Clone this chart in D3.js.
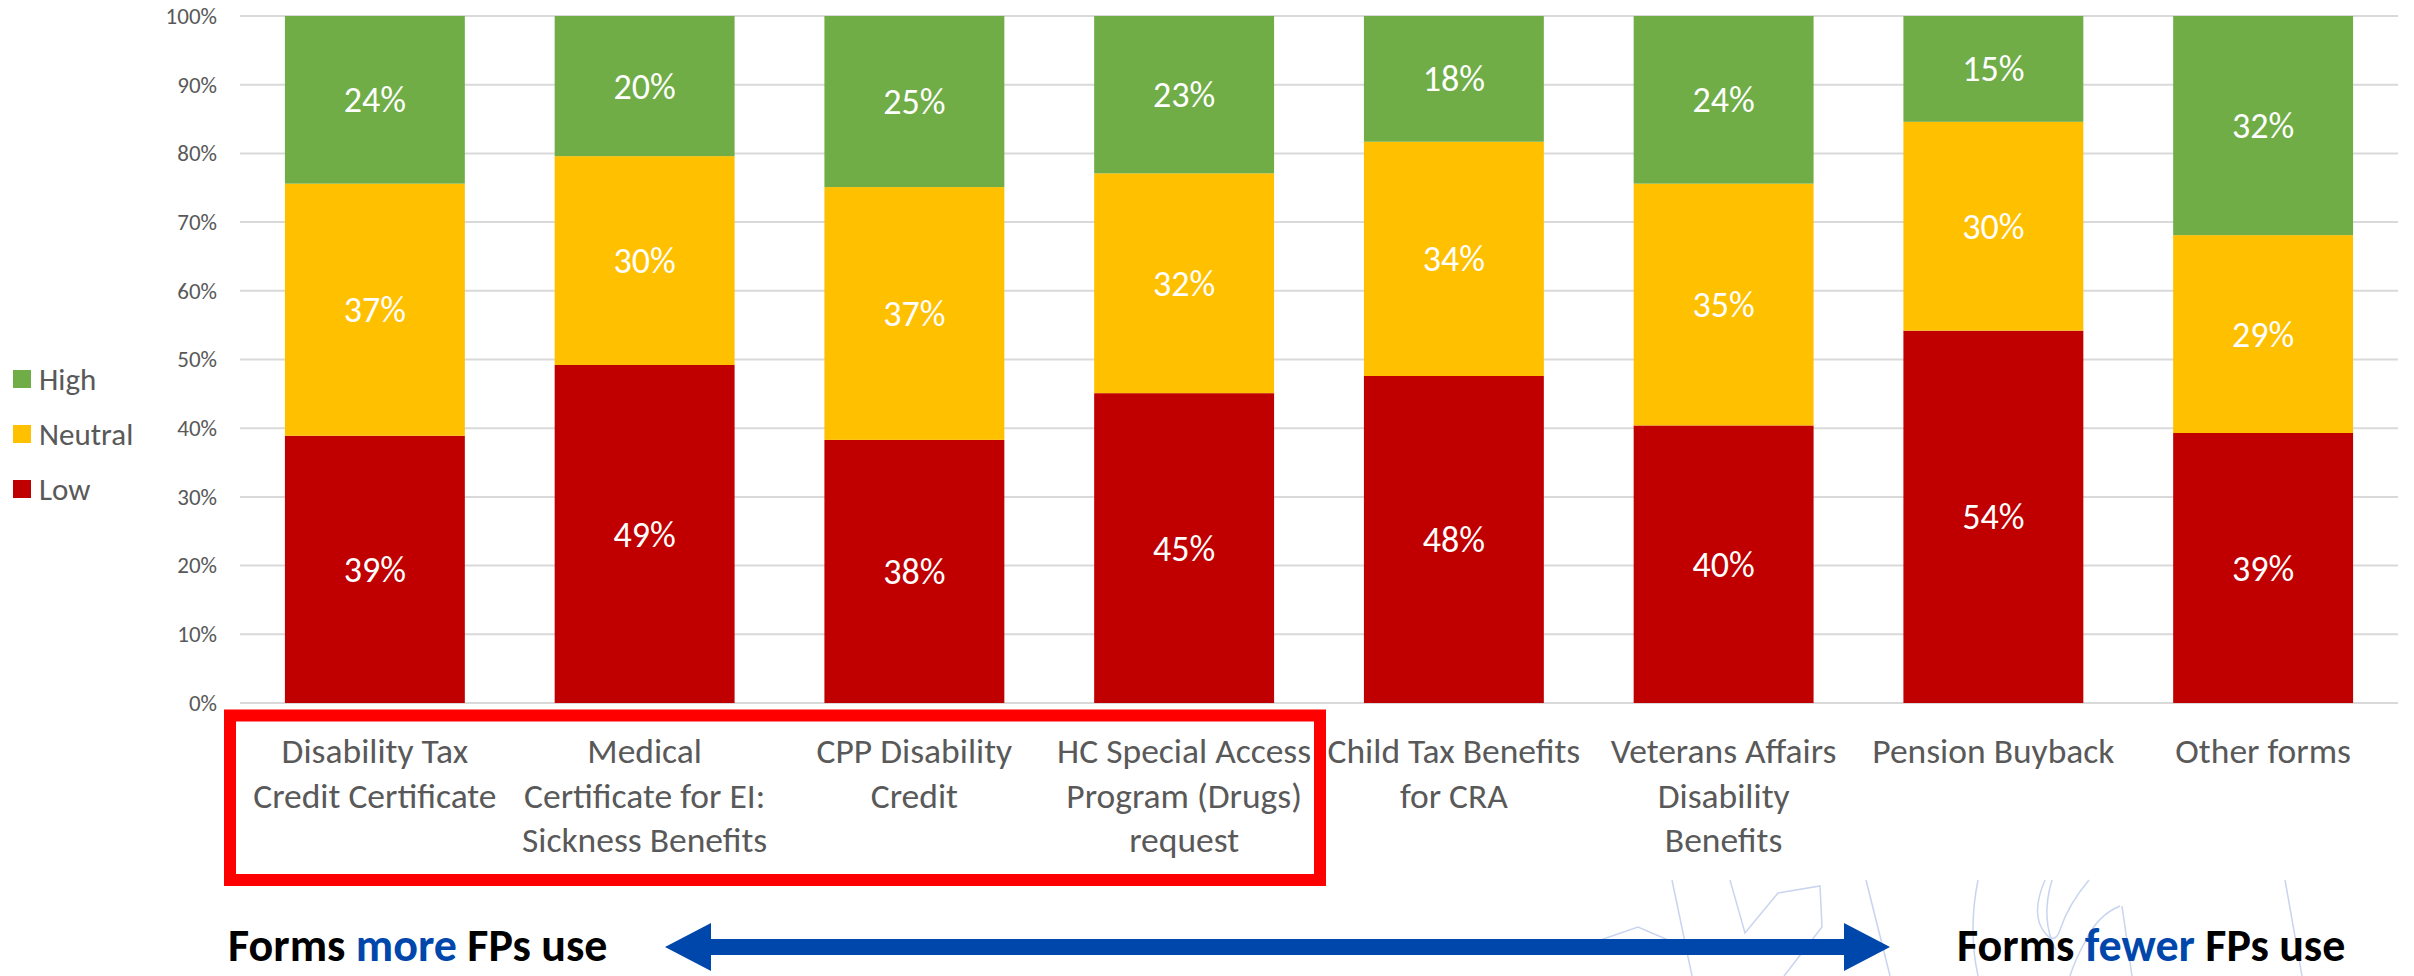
<!DOCTYPE html>
<html>
<head>
<meta charset="utf-8">
<script src="https://cdn.jsdelivr.net/npm/d3@7"></script>
<style>
  html, body { margin: 0; padding: 0; background: #ffffff; }
  svg { display: block; }
</style>
</head>
<body>
<svg id="chart" width="2414" height="976"></svg>
<script>
// Form categories (line breaks follow the axis label wrapping)
const categories = [
  "Disability Tax\nCredit Certificate",
  "Medical\nCertificate for EI:\nSickness Benefits",
  "CPP Disability\nCredit",
  "HC Special Access\nProgram (Drugs)\nrequest",
  "Child Tax Benefits\nfor CRA",
  "Veterans Affairs\nDisability\nBenefits",
  "Pension Buyback",
  "Other forms"
];

// Share of respondents per rating (percent)
const low     = [38.9, 49.2, 38.3, 45.1, 47.6, 40.4, 54.2, 39.3];
const neutral = [36.7, 30.4, 36.8, 32.0, 34.1, 35.2, 30.4, 28.8];
const high    = [24.4, 20.4, 24.9, 22.9, 18.3, 24.4, 15.4, 31.9];

const seriesNames = ["Low", "Neutral", "High"];
const legendOrder = ["High", "Neutral", "Low"];
const yTicks = [0, 10, 20, 30, 40, 50, 60, 70, 80, 90, 100];

const colors = { Low: "#C00000", Neutral: "#FFC000", High: "#70AD47" };
const FONT = "Carlito, Calibri, Lato, 'Open Sans', sans-serif";
const GREY = "#595959";
const BLUE = "#0047AB";

const rows = categories.map((c, i) => ({ category: c, Low: low[i], Neutral: neutral[i], High: high[i] }));

const svg = d3.select("#chart");

const x = d3.scaleBand()
  .domain(categories)
  .range([240, 2398])
  .paddingInner(0.333)
  .paddingOuter(0.1665);

const y = d3.scaleLinear().domain([0, 100]).range([703, 16]);

// Horizontal gridlines
svg.append("g")
  .selectAll("line")
  .data(yTicks)
  .join("line")
  .attr("x1", 240).attr("x2", 2398)
  .attr("y1", d => y(d)).attr("y2", d => y(d))
  .attr("stroke", "#D9D9D9").attr("stroke-width", 2);

// Y axis labels
const yAxis = svg.append("g")
  .attr("transform", "translate(217,0)")
  .call(d3.axisLeft(y).tickValues(yTicks).tickFormat(d => d + "%").tickSize(0).tickPadding(0));
yAxis.select(".domain").remove();
yAxis.selectAll("text")
  .attr("font-family", FONT).attr("font-size", 23).attr("fill", GREY);

// Stacked bars
const stacked = d3.stack().keys(seriesNames)(rows);

const layers = svg.append("g").selectAll("g")
  .data(stacked)
  .join("g")
  .attr("fill", s => colors[s.key]);

layers.selectAll("rect")
  .data(s => s)
  .join("rect")
  .attr("x", d => x(d.data.category))
  .attr("width", x.bandwidth())
  .attr("y", d => y(d[1]))
  .attr("height", d => y(d[0]) - y(d[1]));

// Value labels centred in each segment
layers.selectAll("text")
  .data(s => s)
  .join("text")
  .attr("x", d => x(d.data.category) + x.bandwidth() / 2)
  .attr("y", d => y((d[0] + d[1]) / 2))
  .attr("dy", "0.35em")
  .attr("text-anchor", "middle")
  .attr("font-family", FONT).attr("font-size", 36)
  .attr("fill", "#ffffff")
  .text(d => Math.round(d[1] - d[0]) + "%");

// Category labels
const catG = svg.append("g");
categories.forEach(c => {
  const t = catG.append("text")
    .attr("x", x(c) + x.bandwidth() / 2)
    .attr("y", 763)
    .attr("text-anchor", "middle")
    .attr("font-family", FONT).attr("font-size", 35.5)
    .attr("fill", GREY);
  c.split("\n").forEach((line, k) => {
    t.append("tspan")
      .attr("x", x(c) + x.bandwidth() / 2)
      .attr("dy", k === 0 ? 0 : 44.7)
      .text(line);
  });
});

// Legend
const legend = svg.append("g");
legendOrder.forEach((name, i) => {
  const cy = 379 + i * 55;
  legend.append("rect")
    .attr("x", 13).attr("y", cy - 9).attr("width", 18).attr("height", 18)
    .attr("fill", colors[name]);
  legend.append("text")
    .attr("x", 39).attr("y", cy).attr("dy", "0.35em")
    .attr("font-family", FONT).attr("font-size", 31)
    .attr("fill", GREY)
    .text(name);
});

// Highlight box around the most-used forms
svg.append("rect")
  .attr("x", 230).attr("y", 715.5)
  .attr("width", 1090).attr("height", 164.5)
  .attr("fill", "none")
  .attr("stroke", "#FF0000").attr("stroke-width", 12);

// Faint line-art decoration in the lower right
const deco = [
  "M1672,880 L1692,976",
  "M1730,880 L1745,933 L1778,893 L1820,886 L1822,927 L1784,976",
  "M1580,947 L1638,927 L1668,940",
  "M1866,880 L1890,976",
  "M1978,880 Q1968,930 1978,976",
  "M2045,880 Q2030,915 2045,933 Q2055,945 2060,930 Q2068,905 2089,880",
  "M2052,880 Q2040,920 2056,950",
  "M2120,906 Q2098,915 2086,940 Q2075,960 2070,976",
  "M2122,906 L2132,976",
  "M2285,880 L2302,976"
];
svg.append("g")
  .selectAll("path")
  .data(deco)
  .join("path")
  .attr("d", d => d)
  .attr("fill", "none")
  .attr("stroke", "#C9D4EE")
  .attr("stroke-width", 1.5);

// Double-headed arrow between the two captions
const ax0 = 665, ax1 = 1890, acy = 947, head = 46, headH = 24, shaftH = 8;
const arrow = d3.path();
arrow.moveTo(ax0, acy);
arrow.lineTo(ax0 + head, acy - headH);
arrow.lineTo(ax0 + head, acy - shaftH);
arrow.lineTo(ax1 - head, acy - shaftH);
arrow.lineTo(ax1 - head, acy - headH);
arrow.lineTo(ax1, acy);
arrow.lineTo(ax1 - head, acy + headH);
arrow.lineTo(ax1 - head, acy + shaftH);
arrow.lineTo(ax0 + head, acy + shaftH);
arrow.lineTo(ax0 + head, acy + headH);
arrow.closePath();
svg.append("path").attr("d", arrow.toString()).attr("fill", BLUE);

// Captions at either end of the arrow
function caption(xPos, word) {
  const t = svg.append("text")
    .attr("x", xPos).attr("y", 961)
    .attr("font-family", FONT).attr("font-size", 46)
    .attr("font-weight", "bold").attr("fill", "#000000");
  t.append("tspan").text("Forms ");
  t.append("tspan").attr("fill", BLUE).text(word);
  t.append("tspan").text(" FPs use");
}
caption(228, "more");
caption(1957, "fewer");
</script>
</body>
</html>
